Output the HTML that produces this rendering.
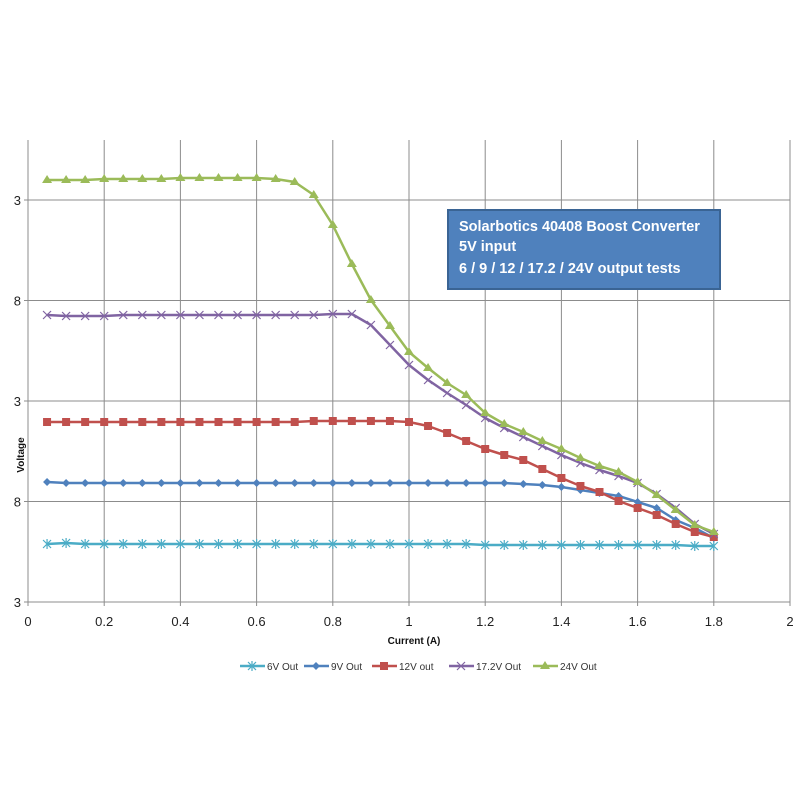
<!DOCTYPE html>
<html><head><meta charset="utf-8"><style>
html,body{margin:0;padding:0;background:#fff;width:800px;height:800px;overflow:hidden}
svg{display:block;font-family:"Liberation Sans",sans-serif}
</style></head><body>
<svg id="s" width="800" height="800" xmlns="http://www.w3.org/2000/svg">
<rect width="800" height="800" fill="#fff"/>
<g id="grid" stroke="#8c8c8c" stroke-width="1"></g>
<g id="lab" font-size="13" fill="#222"></g>
<text x="414" y="644" font-size="10" font-weight="bold" text-anchor="middle" fill="#111">Current (A)</text>
<text transform="translate(24,455) rotate(-90)" font-size="10" font-weight="bold" text-anchor="middle" fill="#111">Voltage</text>
<g id="series"></g>
<rect x="448" y="210" width="272" height="79" fill="#4f81bd" stroke="#3a6494" stroke-width="2"/>
<g fill="#fff" font-size="14.5" font-weight="bold">
<text x="459" y="231">Solarbotics 40408 Boost Converter</text>
<text x="459" y="251">5V input</text>
<text x="459" y="273">6 / 9 / 12 / 17.2 / 24V output tests</text>
</g>
<g id="leg" font-size="10" fill="#333"></g>
</svg>
<script>
var NS="http://www.w3.org/2000/svg";
function el(t,a,p){var e=document.createElementNS(NS,t);for(var k in a)e.setAttribute(k,a[k]);p.appendChild(e);return e;}
var g=document.getElementById('grid'),lab=document.getElementById('lab');
function X(v){return 28+v*381;}
for(var i=0;i<=10;i++){var x=X(i*0.2);el('line',{x1:x,y1:140,x2:x,y2:606},g);
 var t=el('text',{x:x,y:626,'text-anchor':'middle'},lab);t.textContent=(i==0?'0':i==5?'1':i==10?'2':(i*0.2).toFixed(1));}
var yl=['3','8','3','8','3'];
for(var j=0;j<5;j++){var y=200+j*100.5;el('line',{x1:24,y1:y,x2:790,y2:y},g);
 var t=el('text',{x:21,y:y+5,'text-anchor':'end'},lab);t.textContent=yl[j];}
el('line',{x1:28,y1:140,x2:28,y2:606},g);
var S=[
{c:'#4bacc6',m:'ast',d:[544,543,544,544,544,544,544,544,544,544,544,544,544,544,544,544,544,544,544,544,544,544,544,545,545,545,545,545,545,545,545,545,545,545,546,546]},
{c:'#4f81bd',m:'dia',d:[483,482,483,483,483,483,483,483,483,483,483,483,483,483,483,483,483,483,483,483,483,483,483,483,483,483,484,485,487,490,493,496,502,508,520,528,538].slice(1)},
{c:'#c0504d',m:'sq',d:[422,422,422,422,422,422,422,422,422,422,422,422,422,422,422,421,421,421,421,421,422,426,433,441,449,455,460,469,478,486,492,501,508,515,524,532,537].slice(1)},
{c:'#8064a2',m:'x',d:[315,316,316,316,315,315,315,315,315,315,315,315,315,315,315,314,314,325,345,365,380,393,405,418,428,437,446,455,463,470,476,483,494,508,524,534].concat([])},
{c:'#9bbb59',m:'tri',d:[181,180,180,180,179,179,179,179,178,178,178,178,178,179,182,195,225,264,300,326,352,368,383,395,413,424,432,441,449,458,466,472,482,495,510,525,532].slice(1)}
];
var sg=document.getElementById('series');
function mark(m,x,y,c,p){
 if(m=='dia')el('path',{d:'M'+x+' '+(y-4)+'l4 4l-4 4l-4-4z',fill:c},p);
 else if(m=='sq')el('rect',{x:x-4,y:y-4,width:8,height:8,fill:c},p);
 else if(m=='tri')el('path',{d:'M'+x+' '+(y-5)+'l5 8h-10z',fill:c},p);
 else if(m=='x')el('path',{d:'M'+(x-4)+' '+(y-4)+'l8 8M'+(x+4)+' '+(y-4)+'l-8 8',stroke:c,'stroke-width':1.2},p);
 else el('path',{d:'M'+(x-4)+' '+(y-4)+'l8 8M'+(x+4)+' '+(y-4)+'l-8 8M'+x+' '+(y-5)+'v10',stroke:c,'stroke-width':1.2},p);
}
S.forEach(function(s){var pts=[];for(var i=0;i<s.d.length;i++){pts.push([X(0.05+i*0.05),s.d[i]]);}
 el('polyline',{points:pts.map(function(p){return p.join(',')}).join(' '),fill:'none',stroke:s.c,'stroke-width':2.5,'stroke-linejoin':'round'},sg);
 pts.forEach(function(p){mark(s.m,p[0],p[1],s.c,sg);});});
var lg=document.getElementById('leg');
var L=[['6V Out',240],['9V Out',304],['12V out',372],['17.2V Out',449],['24V Out',533]];
L.forEach(function(l,i){var x=l[1],y=666;el('line',{x1:x,y1:y,x2:x+25,y2:y,stroke:S[i].c,'stroke-width':2.5},lg);
 mark(S[i].m,x+12,y,S[i].c,lg);var t=el('text',{x:x+27,y:y+4},lg);t.textContent=l[0];});
</script>
</body></html>
